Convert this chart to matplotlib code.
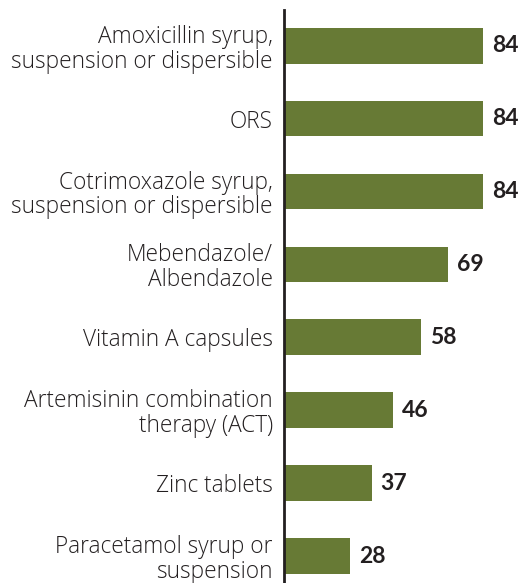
import matplotlib
matplotlib.use("Agg")
import matplotlib.pyplot as plt

categories = [
    "Amoxicillin syrup,\nsuspension or dispersible",
    "ORS",
    "Cotrimoxazole syrup,\nsuspension or dispersible",
    "Mebendazole/\nAlbendazole",
    "Vitamin A capsules",
    "Artemisinin combination\ntherapy (ACT)",
    "Zinc tablets",
    "Paracetamol syrup or\nsuspension",
]
values = [84, 84, 84, 69, 58, 46, 37, 28]

color = "#677a35"
txt = "#231f20"

fig = plt.figure(figsize=(5.22, 5.83), dpi=100)
ax = fig.add_axes([284/522, 0.0, 1 - 284/522, 573/583])

n = len(categories)
ypos = [n - 1 - i for i in range(n)]
ax.barh(ypos, values, height=0.49, color=color, left=0)
for y, v in zip(ypos, values):
    ax.text(v + 3.8, y, str(v), va="center", ha="left", fontsize=16.5,
            fontweight="bold", family="Lato", color=txt)

ax.set_xlim(0, 100.4)
ax.set_ylim(-0.37, n - 1 + 0.49)
ax.set_yticks(ypos)
ax.set_yticklabels(categories, fontsize=16.3, family="Open Sans", color=txt,
                   linespacing=1.05, fontweight="light")
ax.tick_params(axis="y", length=0, pad=8)
ax.set_xticks([])
for s in ["top", "right", "bottom"]:
    ax.spines[s].set_visible(False)
ax.spines["left"].set_linewidth(2)
ax.spines["left"].set_color(txt)

fig.savefig("out.png", dpi=100)
